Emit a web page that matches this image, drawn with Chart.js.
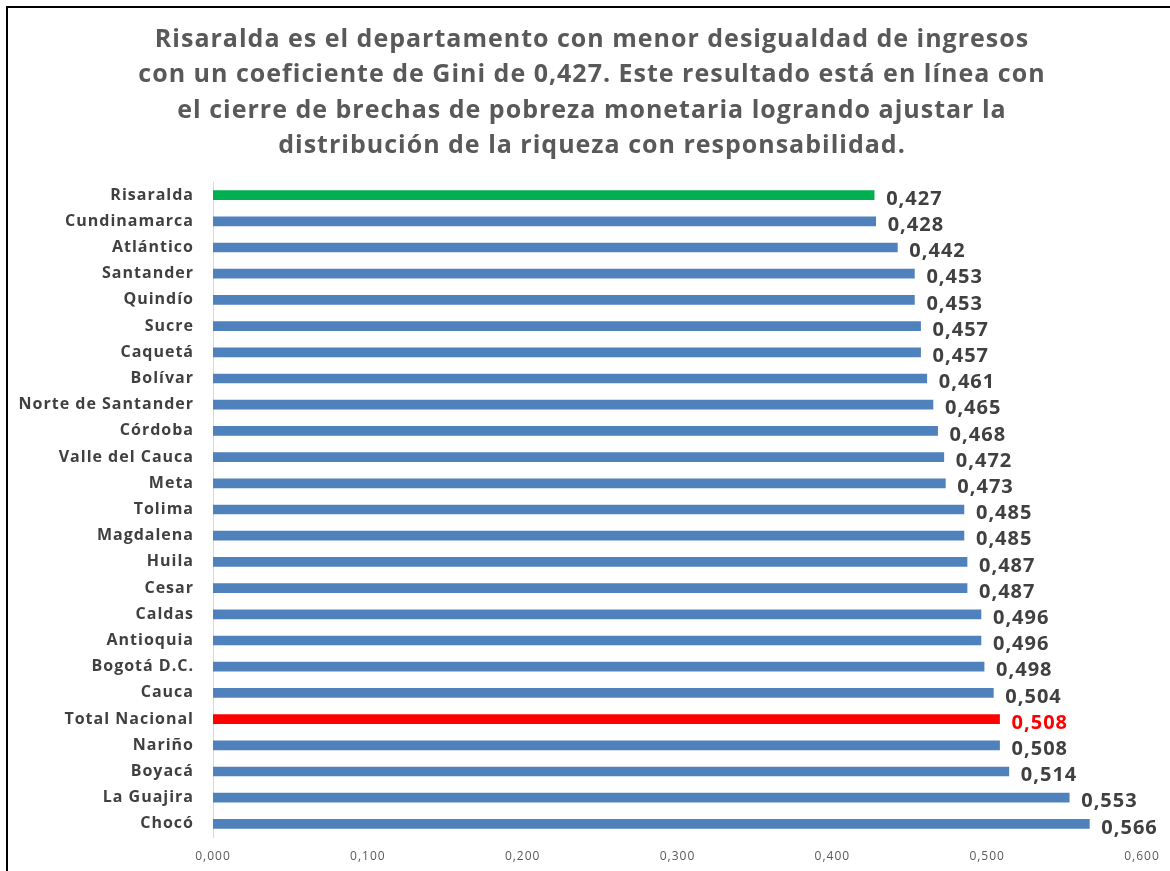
<!DOCTYPE html>
<html>
<head>
<meta charset="utf-8">
<script src="https://cdn.jsdelivr.net/npm/chart.js@4"></script>
<style>
  html, body { margin: 0; padding: 0; background: #fff; overflow: hidden; }
  #wrap { position: relative; width: 1170px; height: 871px; }
  #chart { position: absolute; left: 0; top: 0; }
  #frame {
    position: absolute; left: 6px; top: 6px; width: 1180px; height: 890px;
    border: 2px solid #000; pointer-events: none;
  }
</style>
</head>
<body>
<div id="wrap">
  <canvas id="chart" width="1170" height="871"></canvas>
  <div id="frame"></div>
</div>
<script>
const departamentos = [
  'Risaralda', 'Cundinamarca', 'Atlántico', 'Santander', 'Quindío', 'Sucre',
  'Caquetá', 'Bolívar', 'Norte de Santander', 'Córdoba', 'Valle del Cauca',
  'Meta', 'Tolima', 'Magdalena', 'Huila', 'Cesar', 'Caldas', 'Antioquia',
  'Bogotá D.C.', 'Cauca', 'Total Nacional', 'Nariño', 'Boyacá', 'La Guajira', 'Chocó'
];
const gini = [
  0.427, 0.428, 0.442, 0.453, 0.453, 0.457, 0.457, 0.461, 0.465, 0.468, 0.472,
  0.473, 0.485, 0.485, 0.487, 0.487, 0.496, 0.496, 0.498, 0.504, 0.508, 0.508,
  0.514, 0.553, 0.566
];
const tituloLineas = [
  'Risaralda es el departamento con menor desigualdad de ingresos',
  'con un coeficiente de Gini de 0,427. Este resultado está en línea con',
  'el cierre de brechas de pobreza monetaria logrando ajustar la',
  'distribución de la riqueza con responsabilidad.'
];

const AZUL  = '#4F81BD';
const VERDE = '#00B050';
const ROJO  = '#FF0000';

function colorBarra(nombre) {
  if (nombre === 'Risaralda') return VERDE;
  if (nombre === 'Total Nacional') return ROJO;
  return AZUL;
}

function fmt(v, dec) {
  return v.toFixed(dec).replace('.', ',');
}

// el texto de Excel sale algo espaciado
const espaciado = {
  id: 'espaciado',
  beforeDraw(chart) {
    chart.ctx.letterSpacing = '1px';
  }
};

// título centrado sobre el recuadro, no sobre el área del gráfico
const tituloCentrado = {
  id: 'tituloCentrado',
  afterDraw(chart) {
    const ctx = chart.ctx;
    ctx.save();
    ctx.letterSpacing = '1px';
    ctx.font = 'bold 25px "Open Sans", sans-serif';
    ctx.fillStyle = '#595959';
    ctx.textAlign = 'center';
    ctx.textBaseline = 'middle';
    tituloLineas.forEach((linea, i) => {
      ctx.fillText(linea, 592, 40 + i * 35.3);
    });
    ctx.restore();
  }
};

// etiquetas de valor al final de cada barra
const etiquetasValor = {
  id: 'etiquetasValor',
  afterDatasetsDraw(chart) {
    const ctx  = chart.ctx;
    const meta = chart.getDatasetMeta(0);
    ctx.save();
    ctx.letterSpacing = '1px';
    ctx.font = 'bold 20px "Open Sans", sans-serif';
    ctx.textBaseline = 'middle';
    ctx.textAlign = 'left';
    meta.data.forEach((bar, i) => {
      ctx.fillStyle = departamentos[i] === 'Total Nacional' ? ROJO : '#404040';
      ctx.fillText(fmt(gini[i], 3), bar.x + 12, bar.y + 4);
    });
    ctx.restore();
  }
};

new Chart(document.getElementById('chart'), {
  type: 'bar',
  data: {
    labels: departamentos,
    datasets: [{
      data: gini,
      backgroundColor: departamentos.map(colorBarra),
      barThickness: 9,
    }],
  },
  options: {
    indexAxis: 'y',
    responsive: false,
    animation: false,
    layout: { padding: { top: 182, right: 28, bottom: 0, left: 10 } },
    plugins: {
      legend: { display: false },
      tooltip: { enabled: false },
      title: { display: false },
    },
    scales: {
      x: {
        min: 0,
        max: 0.6,
        ticks: {
          stepSize: 0.1,
          color: '#595959',
          font: { family: '"Open Sans", sans-serif', size: 12 },
          callback: v => fmt(v, 3),
          padding: 12,
        },
        grid: { display: false, drawTicks: false },
        border: { display: false },
        afterFit: scale => { scale.height = 34; },
      },
      y: {
        ticks: {
          color: '#404040',
          font: { family: '"Open Sans", sans-serif', size: 16, weight: 'bold' },
          padding: 19,
        },
        grid: { display: false, drawTicks: false },
        border: { display: true, color: '#D9D9D9', width: 1 },
        afterFit: scale => { scale.width = 203; },
      },
    },
  },
  plugins: [espaciado, etiquetasValor, tituloCentrado],
});
</script>
</body>
</html>
